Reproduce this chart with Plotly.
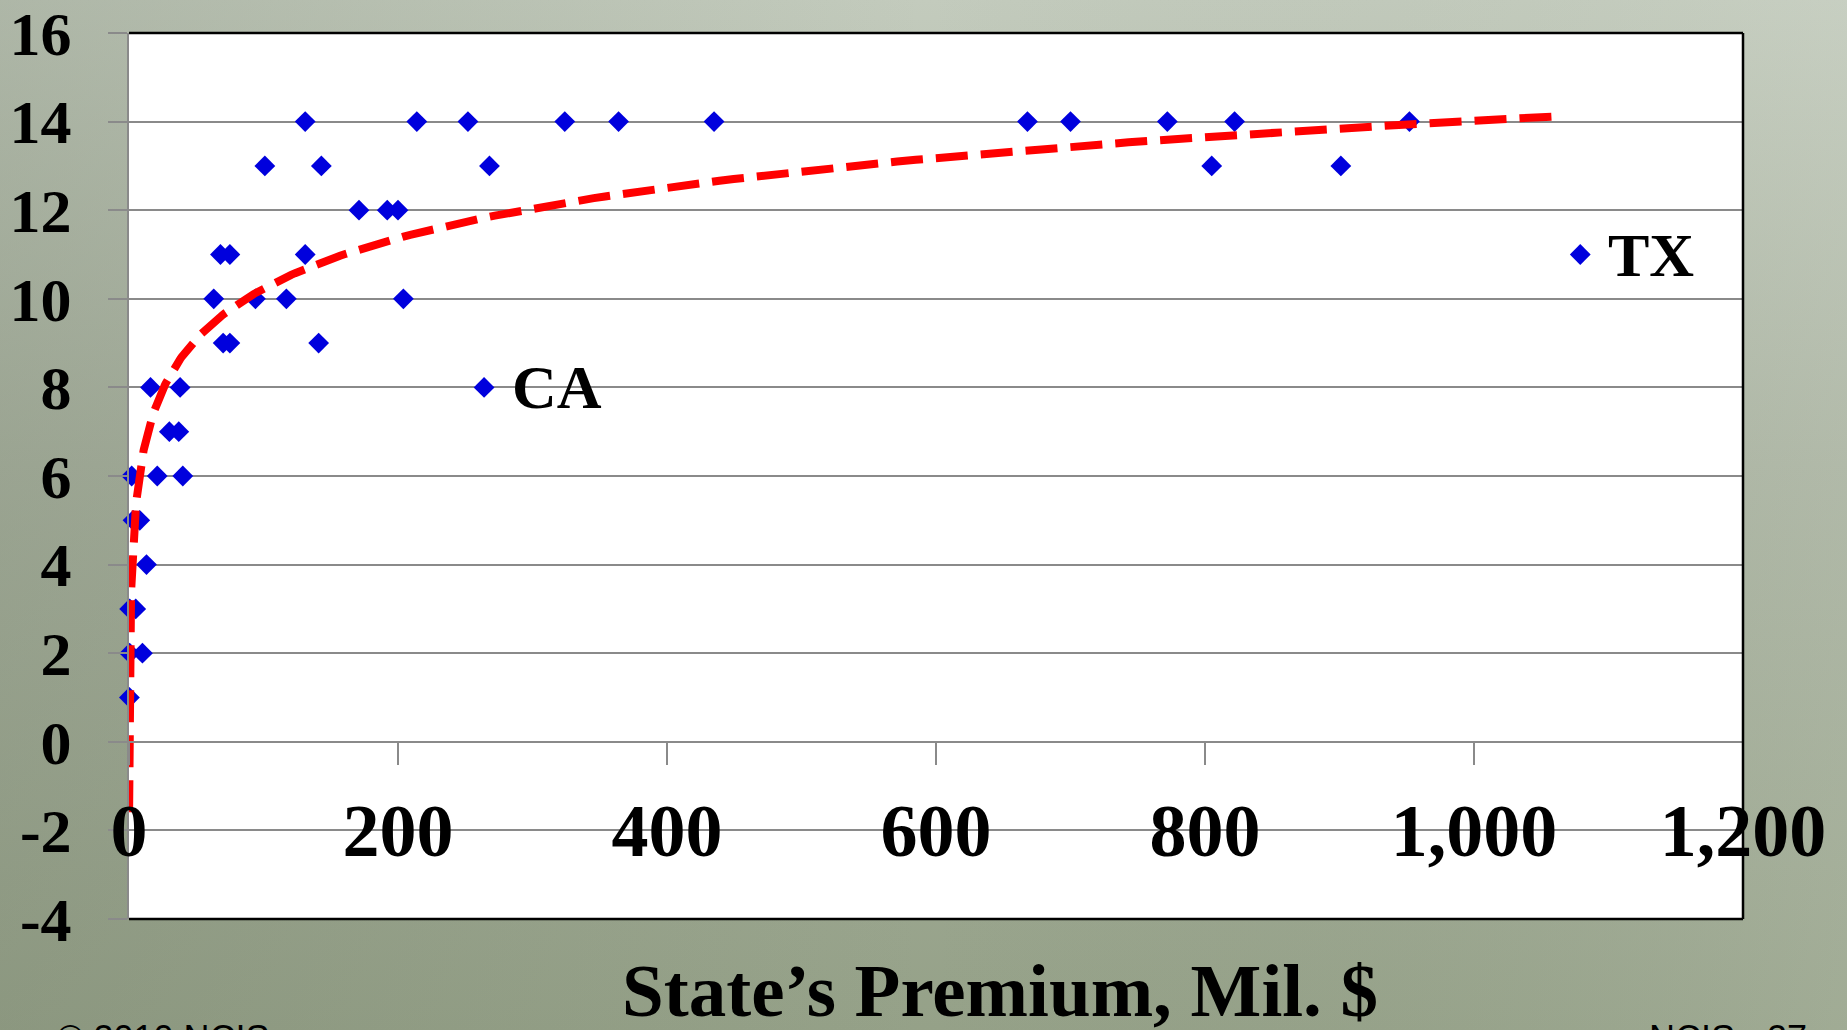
import base64
import numpy as np
import plotly.graph_objects as go

# ---------------- data ----------------
premium_mil = [131, 214, 252, 324, 364, 435, 668, 700, 772, 822, 952,
               101, 143, 268, 805, 901,
               171, 192, 200,
               68, 75, 131, 1079,
               63, 94, 117, 204,
               70, 75, 141,
               16, 38, 264,
               30, 37,
               2, 21, 40,
               3, 8,
               13,
               0.5, 5,
               0.5, 10,
               0.3]
rating = [14, 14, 14, 14, 14, 14, 14, 14, 14, 14, 14,
          13, 13, 13, 13, 13,
          12, 12, 12,
          11, 11, 11, 11,
          10, 10, 10, 10,
          9, 9, 9,
          8, 8, 8,
          7, 7,
          6, 6, 6,
          5, 5,
          4,
          3, 3,
          2, 2,
          1]

label_states = ["CA", "TX"]
label_x = [264, 1079]
label_y = [8, 11]

# logarithmic trendline y = a*ln(x) + b
trend_slope = 1.646
trend_intercept = 2.65
trend_x_start = 0.076
trend_x_end = 1064

x_tickvals = [0, 200, 400, 600, 800, 1000, 1200]
x_ticktext = ["0", "200", "400", "600", "800", "1,000", "1,200"]
y_tickvals = [-4, -2, 0, 2, 4, 6, 8, 10, 12, 14, 16]
y_ticktext = ["-4", "-2", "0", "2", "4", "6", "8", "10", "12", "14", "16"]

x_title = "State’s Premium, Mil. $"
footer_left = "© 2010 NCIS"
footer_right = "NCIS - 27"

# ---------------- figure ----------------
W, H = 1847, 1030
L, R, T, B = 129, 104, 33, 111
PW, PH = W - L - R, H - T - B

def py(pix):
    """paper y from a pixel row"""
    return (H - B - pix) / PH

def px(pix):
    return (pix - L) / PW

serif = "Liberation Serif"
grid_col = "#8a8a8a"

trend_x = np.geomspace(trend_x_start, trend_x_end, 400)
trend_y = trend_slope * np.log(trend_x) + trend_intercept

fig = go.Figure()
fig.add_trace(go.Scatter(
    x=premium_mil, y=rating, mode="markers",
    marker=dict(symbol="diamond", size=16, color="#0000DD"),
    cliponaxis=False, showlegend=False, hoverinfo="x+y"))
fig.add_trace(go.Scatter(
    x=trend_x, y=trend_y, mode="lines", xaxis="x2",
    line=dict(color="#FF0000", width=8, dash="32px,13px"),
    cliponaxis=False, showlegend=False, hoverinfo="skip"))

for s, xx, yy in zip(label_states, label_x, label_y):
    fig.add_annotation(x=xx, y=yy, xref="x", yref="y", text=s, showarrow=False,
                       xanchor="left", yanchor="middle", xshift=26,
                       font=dict(family=serif, size=62, color="black", weight="bold"))

fig.add_annotation(x=px(1000), y=py(991), xref="paper", yref="paper", text=x_title,
                   showarrow=False, xanchor="center", yanchor="middle",
                   font=dict(family=serif, size=75, color="black", weight="bold"))
fig.add_annotation(x=px(55), y=py(1038), xref="paper", yref="paper", text=footer_left,
                   showarrow=False, xanchor="left", yanchor="middle",
                   font=dict(family="Liberation Sans", size=36, color="black"))
fig.add_annotation(x=px(1647), y=py(1038), xref="paper", yref="paper", text=footer_right,
                   showarrow=False, xanchor="left", yanchor="middle",
                   font=dict(family="Liberation Sans", size=36, color="black"))

# background (photo-like gradient)
svg = (f'<svg xmlns="http://www.w3.org/2000/svg" width="{W}" height="{H}">'
       '<defs><linearGradient id="g" x1="0" y1="0" x2="0" y2="1">'
       '<stop offset="0" stop-color="#c3cbbd"/><stop offset="0.45" stop-color="#a9b2a0"/>'
       '<stop offset="1" stop-color="#95a188"/></linearGradient>'
       '<linearGradient id="h" x1="0" y1="0" x2="1" y2="0">'
       '<stop offset="0" stop-color="#6f7a66" stop-opacity="0.25"/>'
       '<stop offset="0.5" stop-color="#6f7a66" stop-opacity="0"/>'
       '<stop offset="1" stop-color="#e0e6dc" stop-opacity="0.15"/></linearGradient></defs>'
       f'<rect width="{W}" height="{H}" fill="url(#g)"/>'
       f'<rect width="{W}" height="{H}" fill="url(#h)"/></svg>')
src = "data:image/svg+xml;base64," + base64.b64encode(svg.encode()).decode()
fig.add_layout_image(source=src, xref="paper", yref="paper", x=-L / PW, y=1 + T / PH,
                     sizex=W / PW, sizey=H / PH, xanchor="left", yanchor="top",
                     sizing="stretch", layer="below")

# white plot area and black frame (top, right, bottom)
fig.add_shape(type="rect", xref="paper", yref="paper", x0=0, x1=1, y0=0, y1=1,
              fillcolor="white", line=dict(width=0), layer="below")
for (x0, y0, x1, y1) in [(0, 1, 1, 1), (1, 0, 1, 1), (0, 0, 1, 0)]:
    fig.add_shape(type="line", xref="paper", yref="paper", x0=x0, y0=y0, x1=x1, y1=y1,
                  line=dict(color="black", width=2.5), layer="above")

fig.update_layout(
    width=W, height=H, margin=dict(l=L, r=R, t=T, b=B, autoexpand=False),
    paper_bgcolor="#a8b29f", plot_bgcolor="white", showlegend=False,
    xaxis=dict(range=[0, 1200], showgrid=False, zeroline=False, showline=False,
               showticklabels=False, ticks=""),
    xaxis2=dict(range=[0, 1200], overlaying="x", anchor="free", position=0.2,
                showgrid=False, zeroline=False, showline=True, linecolor=grid_col,
                linewidth=2, ticks="outside", ticklen=22, tickwidth=2, tickcolor=grid_col,
                tickmode="array", tickvals=x_tickvals, ticktext=x_ticktext,
                ticklabelstandoff=2, ticklabeloverflow="allow",
                tickfont=dict(family=serif, size=74, color="black", weight="bold")),
    yaxis=dict(range=[-4, 16], tickmode="array", tickvals=y_tickvals, ticktext=y_ticktext,
               showgrid=True, gridcolor=grid_col, gridwidth=2, zeroline=False,
               showline=True, linecolor=grid_col, linewidth=2,
               ticks="outside", ticklen=19, tickwidth=2, tickcolor=grid_col,
               ticklabelstandoff=24, ticklabeloverflow="allow",
               tickfont=dict(family=serif, size=62, color="black", weight="bold")),
)

fig.write_html("out.html", config={"displayModeBar": False},
               post_script="document.body.style.margin='0';")
